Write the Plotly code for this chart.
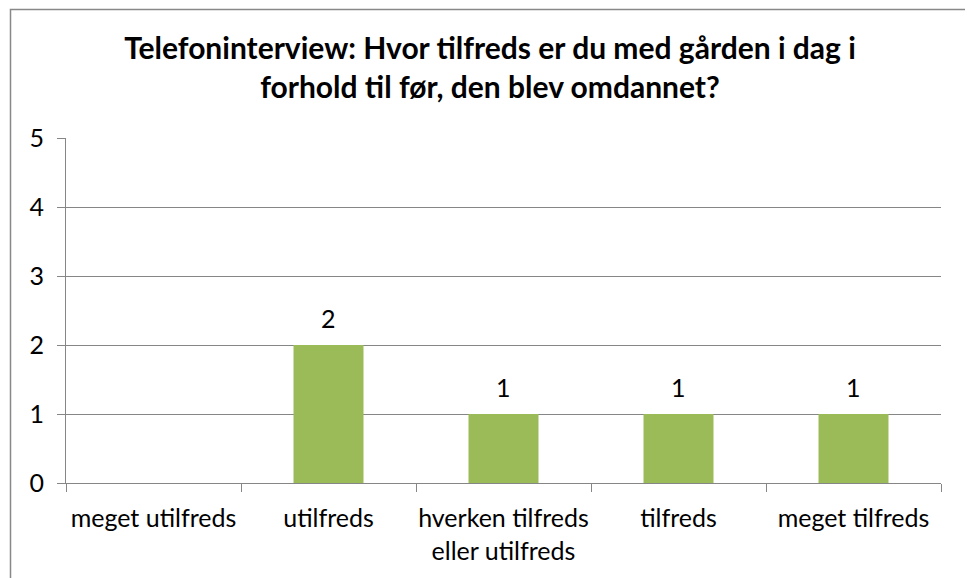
import plotly.graph_objects as go

categories = ["meget utilfreds", "utilfreds", "hverken tilfreds<br>eller utilfreds", "tilfreds", "meget tilfreds"]
values = [None, 2, 1, 1, 1]
labels = ["", "2", "1", "1", "1"]
y_ticks = [0, 1, 2, 3, 4, 5]

title_text = "Telefoninterview: Hvor tilfreds er du med gården i dag i<br>forhold til før, den blev omdannet?"

FONT = "Lato, 'Open Sans', sans-serif"
GRID = "#868686"

# plot area in figure pixels (page body has an 8px margin)
L, R, T, B = 58, 933, 130, 475
PW, PH = R - L, B - T

fig = go.Figure()
fig.add_trace(go.Bar(
    x=categories,
    y=values,
    marker=dict(color="#9BBB59", line=dict(width=0)),
    width=0.4,
    hoverinfo="x+y",
))

annotations = []
for c, v, t in zip(categories, values, labels):
    if v is None:
        continue
    annotations.append(dict(
        x=c, y=v, xref="x", yref="y", text=t, showarrow=False,
        yanchor="bottom", yshift=10,
        font=dict(family=FONT, size=25, color="#000000"),
    ))

fig.update_layout(
    width=973,
    height=578,
    margin=dict(l=L, r=973 - R, t=T, b=578 - B),
    paper_bgcolor="white",
    plot_bgcolor="white",
    showlegend=False,
    font=dict(family=FONT, size=25, color="#000000"),
    title=dict(
        text="<b>" + title_text + "</b>",
        x=482 / 973,
        xanchor="center",
        y=1 - 51 / 578,
        yanchor="top",
        font=dict(family=FONT, size=30, color="#000000"),
    ),
    annotations=annotations,
    xaxis=dict(
        showline=True,
        linecolor=GRID,
        linewidth=1,
        ticks="outside",
        tickson="boundaries",
        ticklen=8,
        tickcolor=GRID,
        showgrid=False,
        tickangle=0,
        ticklabelstandoff=13,
        tickfont=dict(family=FONT, size=25, color="#000000"),
        automargin=False,
    ),
    yaxis=dict(
        range=[0, 5],
        tickvals=y_ticks,
        showline=True,
        linecolor=GRID,
        linewidth=1,
        ticks="outside",
        ticklen=8,
        tickcolor=GRID,
        showgrid=True,
        gridcolor=GRID,
        gridwidth=1,
        zeroline=False,
        ticklabelstandoff=8,
        tickfont=dict(family=FONT, size=25, color="#000000"),
        automargin=False,
    ),
    shapes=[dict(
        type="rect",
        xref="paper", yref="paper",
        x0=(2.5 - L) / PW, x1=(962.5 - L) / PW,
        y0=(B - 600) / PH, y1=(B - 1.5) / PH,
        line=dict(color="#888888", width=1.5),
        fillcolor="rgba(0,0,0,0)",
        layer="below",
    )],
)

fig.write_html("out.html")
